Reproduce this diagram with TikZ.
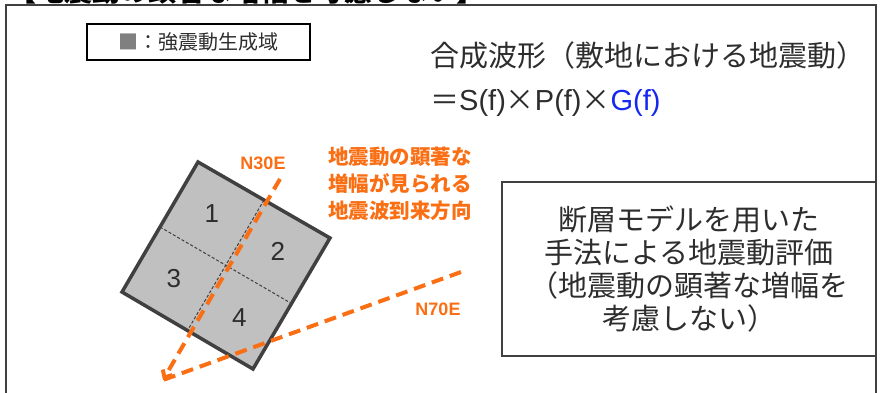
\documentclass[tikz,border=0pt]{standalone}
\usepackage{fontspec}
\setmainfont{Noto Sans CJK JP}
\newfontfamily\latin{Liberation Sans}
\usetikzlibrary{calc,arrows.meta,positioning}
\definecolor{darkline}{RGB}{64,64,64}
\definecolor{faultgray}{RGB}{192,192,192}
\definecolor{quake}{RGB}{250,110,20}
\definecolor{textgray}{RGB}{45,45,45}
\definecolor{formulablue}{RGB}{20,40,240}
\begin{document}
\begin{tikzpicture}[x=1pt,y=-1pt,
    frame/.style={draw=darkline,line width=2pt},
    jptext/.style={inner sep=0pt,text=textgray,font=\fontsize{29}{33}\selectfont},
    dirline/.style={draw=quake,line width=4pt,dash pattern=on 12pt off 7pt},
    dirlabel/.style={inner sep=0pt,text=quake,font=\latin\bfseries\fontsize{18}{20}\selectfont},
    segno/.style={inner sep=0pt,text=textgray,font=\latin\fontsize{26}{26}\selectfont}]
    \useasboundingbox (0,0) rectangle (880,392);
    % title, cut off by the top of the page
    \node[anchor=base west,inner sep=0pt,font=\bfseries\fontsize{28}{28}\selectfont] (title) at (8,1) {【地震動の顕著な増幅を考慮しない】};
    \draw[frame] (6,400) -- (6,5) -- (876,5) -- (876,400);
    % legend
    \node[draw=black,line width=1.5pt,minimum width=223pt,minimum height=36pt,inner sep=0pt,
        text=textgray,font=\fontsize{20}{20}\selectfont] (legend) at (198.5,42) {\textcolor{gray}{■}：強震動生成域};
    % formula
    \node[jptext,anchor=base west] (wave) at (430,66) {合成波形（敷地における地震動）};
    \node[jptext,anchor=base west] (formula) at (430,110) {＝{\latin S(f)}×{\latin P(f)}×\textcolor{formulablue}{\latin G(f)}};
    % fault model
    \coordinate (ftop) at (198,162);
    \coordinate (fright) at (330,238);
    \coordinate (fbottom) at (253,369);
    \coordinate (fleft) at (122,292);
    \coordinate (fmid) at ($(ftop)!0.5!(fbottom)$);
    \fill[faultgray] (ftop) -- (fright) -- (fbottom) -- (fleft) -- cycle;
    \draw[darkline,line width=1pt,densely dashed] ($(ftop)!0.5!(fleft)$) -- ($(fright)!0.5!(fbottom)$);
    \draw[darkline,line width=1pt,densely dashed] ($(ftop)!0.5!(fright)$) -- ($(fleft)!0.5!(fbottom)$);
    \draw[darkline,line width=3.5pt,line join=miter] (ftop) -- (fright) -- (fbottom) -- (fleft) -- cycle;
    \foreach \c/\n in {ftop/1,fright/2,fleft/3,fbottom/4} {
        \node[segno] (seg\n) at ($(\c)!0.5!(fmid)$) {\n};
    }
    % directions
    \coordinate (tip) at (163,380);
    \coordinate (n30) at (280,179);
    \coordinate (n70) at (461,272);
    \draw[dirline] (n70) -- (tip);
    \draw[dirline,-{Straight Barb[length=6pt,width=11pt]}] (n30) -- (tip);
    \node[dirlabel] (n30label) at (263,163) {N30E};
    \node[dirlabel] (n70label) at (438,309) {N70E};
    \node[anchor=north west,inner sep=0pt,align=left,text=quake,
        font=\bfseries\fontsize{20.5}{27}\selectfont] (amplabel) at (328,147) {地震動の顕著な\\増幅が見られる\\地震波到来方向};
    % method box
    \node[draw=darkline,line width=2pt,minimum width=374pt,minimum height=174pt,align=center,
        text=textgray,font=\fontsize{29}{33}\selectfont] (method) at (689,269)
        {断層モデルを用いた\\手法による地震動評価\\（地震動の顕著な増幅を\\考慮しない）};
\end{tikzpicture}
\end{document}
